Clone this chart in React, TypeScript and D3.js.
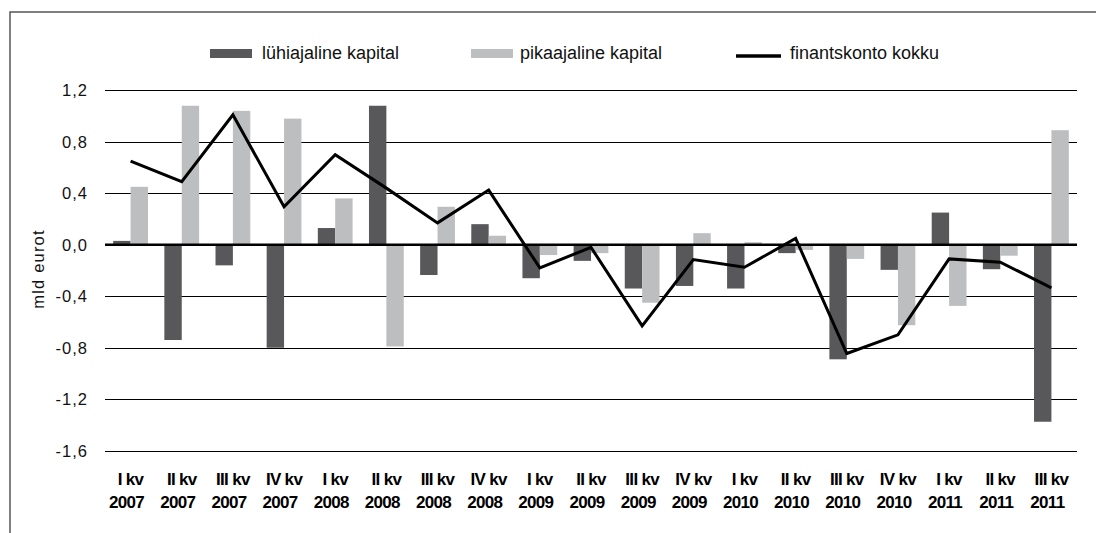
import * as d3 from "d3";
import { useEffect, useRef } from "react";

const quarters = ["I kv", "II kv", "III kv", "IV kv", "I kv", "II kv", "III kv", "IV kv", "I kv", "II kv", "III kv", "IV kv", "I kv", "II kv", "III kv", "IV kv", "I kv", "II kv", "III kv"];
const years = ["2007", "2007", "2007", "2007", "2008", "2008", "2008", "2008", "2009", "2009", "2009", "2009", "2010", "2010", "2010", "2010", "2011", "2011", "2011"];

const luhiajaline = [0.03, -0.74, -0.16, -0.8, 0.13, 1.08, -0.235, 0.16, -0.26, -0.125, -0.34, -0.32, -0.34, -0.065, -0.89, -0.195, 0.25, -0.19, -1.375];
const pikaajaline = [0.45, 1.08, 1.04, 0.98, 0.36, -0.79, 0.295, 0.07, -0.08, -0.065, -0.45, 0.09, 0.02, -0.04, -0.11, -0.625, -0.475, -0.085, 0.89];
const finantskonto = [0.65, 0.49, 1.01, 0.295, 0.7, 0.44, 0.17, 0.425, -0.18, -0.02, -0.63, -0.115, -0.175, 0.05, -0.845, -0.7, -0.11, -0.135, -0.335];

const yTicks = [1.2, 0.8, 0.4, 0, -0.4, -0.8, -1.2, -1.6];
const legendItems = ["lühiajaline kapital", "pikaajaline kapital", "finantskonto kokku"];

const DARK = "#58585a";
const LIGHT = "#bdbec0";

function App() {
  const ref = useRef<SVGSVGElement>(null);

  useEffect(() => {
    const svg = d3.select(ref.current);
    svg.selectAll("*").remove();

    const left = 105, right = 1077, top = 90.3, bottom = 450.7;
    const idx = quarters.map((_, i) => i);

    let x = d3.scaleBand<number>().domain(idx).range([left, right]).paddingInner(0.32).paddingOuter(0.16);
    let y = d3.scaleLinear().domain([-1.6, 1.2]).range([bottom, top]);
    const bw = x.bandwidth() / 2;
    const cx = (i: number) => (x(i) as number) + x.bandwidth() / 2;

    // frame
    svg.append("path").attr("d", "M10,533 L10,12 L1096,12").attr("fill", "none").attr("stroke", "#555").attr("stroke-width", 1.5);

    // grid
    svg.append("g").selectAll("line").data(yTicks).join("line")
      .attr("x1", left).attr("x2", right)
      .attr("y1", d => Math.round(y(d)) + 0.5).attr("y2", d => Math.round(y(d)) + 0.5)
      .attr("stroke", "#000").attr("stroke-width", 1);

    svg.append("g").selectAll("text").data(yTicks).join("text")
      .attr("x", 88).attr("y", d => y(d) + 6)
      .attr("text-anchor", "end").attr("font-size", 16.5).attr("letter-spacing", 1)
      .attr("fill", "#111")
      .text(d => d3.format(".1f")(d).replace(".", ",").replace("−", "-"));

    // bars
    svg.append("g").selectAll("rect").data(luhiajaline).join("rect")
      .attr("x", (_, i) => x(i) as number).attr("width", bw)
      .attr("y", d => y(Math.max(0, d))).attr("height", d => Math.abs(y(d) - y(0)))
      .attr("fill", DARK);
    svg.append("g").selectAll("rect").data(pikaajaline).join("rect")
      .attr("x", (_, i) => (x(i) as number) + bw).attr("width", bw)
      .attr("y", d => y(Math.max(0, d))).attr("height", d => Math.abs(y(d) - y(0)))
      .attr("fill", LIGHT);

    // zero line
    svg.append("line").attr("x1", left).attr("x2", right).attr("y1", y(0)).attr("y2", y(0))
      .attr("stroke", "#000").attr("stroke-width", 2.5);

    // line
    let line = d3.line<number>().x((_, i) => cx(i)).y(d => y(d));
    svg.append("path").attr("d", line(finantskonto)).attr("fill", "none")
      .attr("stroke", "#000").attr("stroke-width", 3).attr("stroke-linejoin", "miter");

    // x labels
    let xl = svg.append("g").attr("font-weight", "bold").attr("font-size", 17).attr("letter-spacing", -0.7).attr("text-anchor", "middle").attr("fill", "#000");
    xl.selectAll(".q").data(quarters).join("text").attr("class", "q")
      .attr("x", (_, i) => cx(i)).attr("y", 485).text(d => d);
    xl.selectAll(".yr").data(years).join("text").attr("class", "yr")
      .attr("x", (_, i) => cx(i) - 4).attr("y", 508).text(d => d);

    // y title
    svg.append("text").attr("transform", "translate(44,269) rotate(-90)")
      .attr("text-anchor", "middle").attr("font-size", 16.5).attr("letter-spacing", 1.2)
      .attr("fill", "#111").text("mld eurot");

    // legend
    let lg = svg.append("g").attr("font-size", 18).attr("fill", "#111");
    lg.append("rect").attr("x", 210).attr("y", 49).attr("width", 42).attr("height", 9).attr("fill", DARK);
    lg.append("text").attr("x", 262).attr("y", 59).text(legendItems[0]);
    lg.append("rect").attr("x", 471).attr("y", 49).attr("width", 42).attr("height", 9).attr("fill", LIGHT);
    lg.append("text").attr("x", 520).attr("y", 59).text(legendItems[1]);
    lg.append("line").attr("x1", 736).attr("x2", 781).attr("y1", 56).attr("y2", 56).attr("stroke", "#000").attr("stroke-width", 3.5);
    lg.append("text").attr("x", 790).attr("y", 59).text(legendItems[2]);
  }, []);

  return (
    <svg ref={ref} width={1096} height={533}
      style={{ position: "absolute", left: 0, top: 0, fontFamily: "'Liberation Sans', Arial, sans-serif", background: "#fff" }} />
  );
}

export default App;
